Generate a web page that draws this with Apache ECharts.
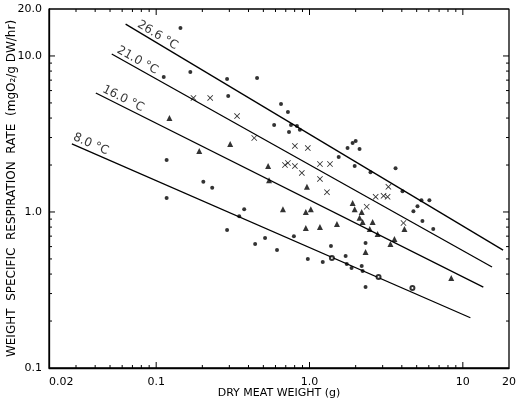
<!DOCTYPE html>
<html>
<head>
<meta charset="utf-8">
<script src="https://cdn.jsdelivr.net/npm/echarts@6/dist/echarts.min.js"></script>
<style>
  html, body { margin: 0; padding: 0; background: #fff; }
  #chart { width: 519px; height: 404px; }
</style>
</head>
<body>
<div id="chart"></div>
<script>
// Weight-specific respiration rate (mgO2/g DW/hr) against dry meat weight (g)

// Axis ranges and tick labels
const xRange = [0.02, 20];
const yRange = [0.1, 20];
const xTickValues = [0.02, 0.1, 1, 10, 20];
const xTickLabels = ['0.02', '0.1', '1.0', '10', '20'];
const yTickValues = [0.1, 1, 10, 20];
const yTickLabels = ['0.1', '1.0', '10.0', '20.0'];
const xMajor = [0.1, 1, 10];
const yMajor = [1, 10];

// Fitted regression lines, one per temperature (end points)
const temps = ['26.6 °C', '21.0 °C', '16.0 °C', '8.0 °C'];
const fit266 = [[0.0632, 16.0], [18.3, 0.570]];
const fit210 = [[0.0513, 10.3], [15.5, 0.444]];
const fit160 = [[0.0404, 5.79], [13.6, 0.330]];
const fit80  = [[0.0282, 2.73], [11.2, 0.210]];
// dry weight at which each temperature label is centred
const tempLabelX = [0.0918, 0.0681, 0.0553, 0.0343];

// Measurements at 26.6 °C
const obs266 = [
  [0.144, 15.1], [0.112, 7.33], [0.167, 7.89], [0.290, 7.12], [0.455, 7.23],
  [0.295, 5.54], [0.652, 4.92], [0.723, 4.38], [0.588, 3.61], [0.757, 3.61],
  [0.828, 3.56], [0.865, 3.36], [0.735, 3.26], [1.55, 2.25], [1.77, 2.57],
  [1.91, 2.77], [2.00, 2.85], [2.12, 2.53], [1.97, 1.97], [2.50, 1.80],
  [3.64, 1.91], [4.04, 1.36], [4.76, 1.01], [5.06, 1.09], [5.37, 1.19],
  [6.05, 1.19], [5.45, 0.875], [6.41, 0.778]
];
// Measurements at 21.0 °C
const obs210 = [
  [0.175, 5.38], [0.225, 5.38], [0.337, 4.12], [0.436, 2.98], [0.803, 2.65],
  [0.975, 2.57], [0.692, 2.00], [0.723, 2.06], [0.803, 1.97], [1.17, 2.03],
  [1.36, 2.03], [0.891, 1.78], [1.17, 1.63], [1.30, 1.34], [2.36, 1.08],
  [3.27, 1.45], [2.70, 1.25], [3.04, 1.27], [3.23, 1.25], [4.10, 0.85]
];
// Measurements at 16.0 °C
const obs160 = [
  [0.122, 4.01], [0.191, 2.46], [0.304, 2.73], [0.537, 1.97], [0.545, 1.60],
  [0.962, 1.45], [0.671, 1.04], [0.946, 1.00], [1.02, 1.04], [0.946, 0.79],
  [1.17, 0.80], [1.51, 0.838], [1.91, 1.14], [1.97, 1.04], [2.19, 1.00],
  [2.12, 0.92], [2.22, 0.863], [2.58, 0.863], [2.47, 0.778], [2.78, 0.723],
  [4.16, 0.778], [2.32, 0.555], [3.37, 0.624], [3.58, 0.671], [8.40, 0.378]
];
// Measurements at 8.0 °C
const obs80 = [
  [0.117, 2.15], [0.203, 1.56], [0.232, 1.43], [0.117, 1.23], [0.375, 1.04],
  [0.348, 0.94], [0.290, 0.767], [0.442, 0.624], [0.513, 0.681], [0.614, 0.570],
  [0.791, 0.70], [0.975, 0.50], [1.22, 0.478], [1.38, 0.605], [1.72, 0.522],
  [1.75, 0.464], [1.88, 0.438], [2.19, 0.451], [2.22, 0.419], [2.32, 0.632],
  [2.32, 0.330]
];
const obs80open = [[1.40, 0.507], [2.82, 0.383], [4.69, 0.326]];

// Minor tick positions (2..9 within each decade)
const minorMult = [2, 3, 4, 5, 6, 7, 8, 9];
const xDecades = [0.01, 0.1, 1];
const yDecades = [0.1, 1];

const FONT = 'DejaVu Sans';
const INK = '#000';
const fits = [fit266, fit210, fit160, fit80];

function tickFormatter(values, labels) {
  return function (v) {
    for (let i = 0; i < values.length; i++) {
      if (Math.abs(Math.log10(v) - Math.log10(values[i])) < 0.01) return labels[i];
    }
    return '';
  };
}

function inRange(v, r) { return v > r[0] * 1.0001 && v < r[1] * 0.9999; }
const minorX = [];
xDecades.forEach(d => minorMult.forEach(m => { const v = d * m; if (inRange(v, xRange)) minorX.push(+v.toPrecision(3)); }));
const minorY = [];
yDecades.forEach(d => minorMult.forEach(m => { const v = d * m; if (inRange(v, yRange)) minorY.push(+v.toPrecision(3)); }));

// y on a straight (log-log) fitted line at a given x
function yOnFit(fit, x) {
  const lx0 = Math.log10(fit[0][0]), lx1 = Math.log10(fit[1][0]);
  const ly0 = Math.log10(fit[0][1]), ly1 = Math.log10(fit[1][1]);
  const t = (Math.log10(x) - lx0) / (lx1 - lx0);
  return Math.pow(10, ly0 + t * (ly1 - ly0));
}

const MAJOR_LEN = 6;
const MINOR_LEN = 3;
const xMark = 'path://M1,0L5,4L9,0L10,1L6,5L10,9L9,10L5,6L1,10L0,9L4,5L0,1Z';

const option = {
  animation: false,
  backgroundColor: '#fff',
  grid: { left: 49, right: 8, top: 9, bottom: 36, outerBoundsContain: 'axisLabel' },
  xAxis: {
    type: 'log', logBase: 10, min: xRange[0], max: xRange[1], position: 'bottom',
    axisLine: { show: true, lineStyle: { color: INK, width: 1.3 } },
    axisTick: { show: false }, splitLine: { show: false },
    axisLabel: {
      color: INK, fontFamily: FONT, fontSize: 11, margin: 9,
      alignMinLabel: 'left',
      formatter: tickFormatter(xTickValues, xTickLabels)
    },
    name: 'DRY MEAT WEIGHT (g)', nameLocation: 'middle', nameGap: 20, nameMoveOverlap: false,
    nameTextStyle: { color: INK, fontFamily: FONT, fontSize: 11 }
  },
  yAxis: {
    type: 'log', logBase: 10, min: yRange[0], max: yRange[1], position: 'left',
    axisLine: { show: true, lineStyle: { color: INK, width: 1.3 } },
    axisTick: { show: false }, splitLine: { show: false },
    axisLabel: {
      color: INK, fontFamily: FONT, fontSize: 11, margin: 7,
      formatter: tickFormatter(yTickValues, yTickLabels)
    },
    name: 'WEIGHT  SPECIFIC  RESPIRATION  RATE  (mgO₂/g DW/hr)', nameLocation: 'middle',
    nameGap: 31, nameMoveOverlap: false,
    nameTextStyle: { color: INK, fontFamily: FONT, fontSize: 12 }
  },
  series: [
    // plot frame, on its own layer above everything else
    {
      id: 'frame', type: 'line', symbol: 'none', silent: true, clip: false, zlevel: 1, z: 20,
      data: [[xRange[0], yRange[0]], [xRange[1], yRange[0]], [xRange[1], yRange[1]],
             [xRange[0], yRange[1]], [xRange[0], yRange[0]]],
      lineStyle: { color: INK, width: 1.3 }
    },
    // tick marks (filled in once the scales are laid out)
    {
      id: 'ticks', type: 'line', symbol: 'none', silent: true, clip: false, zlevel: 1, z: 20,
      connectNulls: false, data: [],
      lineStyle: { color: INK, width: 1 }
    },
    // fitted lines
    ...fits.map((fit, i) => ({
      type: 'line', name: temps[i], data: fit, symbol: 'none', silent: true,
      lineStyle: { color: INK, width: 1.3 }, z: 3
    })),
    // temperature labels along the lines
    {
      id: 'tempLabels', type: 'scatter', symbolSize: 0, silent: true, z: 6,
      data: [],
      label: {
        show: true, position: 'inside', align: 'center', verticalAlign: 'middle',
        color: INK, fontFamily: FONT, fontSize: 12,
        formatter: p => p.name
      }
    },
    // observations
    { type: 'scatter', name: temps[0], data: obs266, symbol: 'circle', symbolSize: 4,
      itemStyle: { color: INK }, z: 4 },
    { type: 'scatter', name: temps[1], data: obs210, symbol: xMark, symbolSize: 6,
      itemStyle: { color: INK }, z: 4 },
    { type: 'scatter', name: temps[2], data: obs160, symbol: 'triangle', symbolSize: 6,
      itemStyle: { color: INK }, z: 4 },
    { type: 'scatter', name: temps[3], data: obs80, symbol: 'circle', symbolSize: 4,
      itemStyle: { color: INK }, z: 4 },
    { type: 'scatter', name: temps[3], data: obs80open, symbol: 'emptyCircle', symbolSize: 4,
      itemStyle: { color: INK, borderWidth: 1 }, z: 4 }
  ]
};

const chart = echarts.init(document.getElementById('chart'), null, { renderer: 'canvas' });
chart.setOption(option);

const toPx = v => chart.convertToPixel({ gridIndex: 0 }, v);
const fromPx = p => chart.convertFromPixel({ gridIndex: 0 }, p);

// orient each temperature label along its fitted line, just above it
const LABEL_LIFT = 8;
const labelData = fits.map((fit, i) => {
  const p0 = toPx(fit[0]);
  const p1 = toPx(fit[1]);
  const ang = Math.atan2(p1[1] - p0[1], p1[0] - p0[0]);
  const x = tempLabelX[i];
  return {
    name: temps[i], value: [x, yOnFit(fit, x)],
    label: {
      rotate: -ang * 180 / Math.PI,
      offset: [LABEL_LIFT * Math.sin(ang), -LABEL_LIFT * Math.cos(ang)]
    }
  };
});

// inward tick marks on all four sides, each a short segment in data space
const tickData = [];
function addXTicks(values, len) {
  values.forEach(v => {
    const b = toPx([v, yRange[0]]);
    const t = toPx([v, yRange[1]]);
    tickData.push([v, yRange[0]], [v, fromPx([b[0], b[1] - len])[1]], [v, '-']);
    tickData.push([v, yRange[1]], [v, fromPx([t[0], t[1] + len])[1]], [v, '-']);
  });
}
function addYTicks(values, len) {
  values.forEach(v => {
    const l = toPx([xRange[0], v]);
    const r = toPx([xRange[1], v]);
    tickData.push([xRange[0], v], [fromPx([l[0] + len, l[1]])[0], v], ['-', v]);
    tickData.push([xRange[1], v], [fromPx([r[0] - len, r[1]])[0], v], ['-', v]);
  });
}
addXTicks(xMajor, MAJOR_LEN);
addXTicks(minorX, MINOR_LEN);
addYTicks(yMajor, MAJOR_LEN);
addYTicks(minorY, MINOR_LEN);

chart.setOption({
  series: [
    { id: 'tempLabels', data: labelData },
    { id: 'ticks', data: tickData }
  ]
});
</script>
</body>
</html>
